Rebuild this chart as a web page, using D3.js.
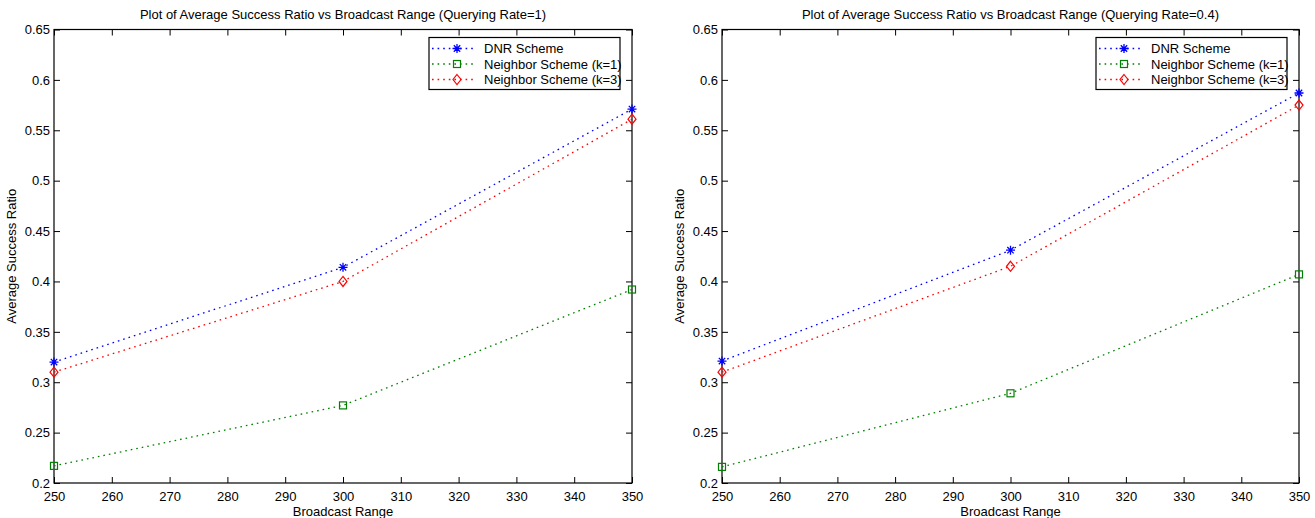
<!DOCTYPE html>
<html>
<head>
<meta charset="utf-8">
<script src="https://cdn.jsdelivr.net/npm/d3@7"></script>
<style>
  html, body { margin: 0; padding: 0; background: #fff; }
  svg { display: block; }
  text { font-family: "Liberation Sans", Arial, Helvetica, sans-serif; fill: #000; }
</style>
</head>
<body>
<svg id="chart" width="1315" height="518"></svg>
<script>
// ---------------- data ----------------
const ranges = [250, 300, 350];
const seriesNames = ["DNR Scheme", "Neighbor Scheme (k=1)", "Neighbor Scheme (k=3)"];

// Querying Rate = 1
const dnrRate1 = [0.320, 0.414, 0.571];
const nbK1Rate1 = [0.217, 0.277, 0.392];
const nbK3Rate1 = [0.310, 0.400, 0.561];

// Querying Rate = 0.4
const dnrRate04 = [0.321, 0.431, 0.587];
const nbK1Rate04 = [0.216, 0.289, 0.407];
const nbK3Rate04 = [0.310, 0.415, 0.575];

const xTicks = [250, 260, 270, 280, 290, 300, 310, 320, 330, 340, 350];
const yTicks = [0.2, 0.25, 0.3, 0.35, 0.4, 0.45, 0.5, 0.55, 0.6, 0.65];
const yTickLabels = ["0.2", "0.25", "0.3", "0.35", "0.4", "0.45", "0.5", "0.55", "0.6", "0.65"];

const titles = [
  "Plot of Average Success Ratio vs Broadcast Range (Querying Rate=1)",
  "Plot of Average Success Ratio vs Broadcast Range (Querying Rate=0.4)"
];
const xLabel = "Broadcast Range";
const yLabel = "Average Success Ratio";

// ---------------- styles ----------------
const colors = ["#0000ff", "#008000", "#ff0000"];
const markers = ["star", "square", "diamond"];

const svg = d3.select("#chart");

function drawMarker(g, type, color) {
  if (type === "star") {
    g.append("path")
      .attr("d", "M-4.5,0L4.5,0M0,-4.5L0,4.5M-3.2,-3.2L3.2,3.2M-3.2,3.2L3.2,-3.2")
      .attr("stroke", color).attr("stroke-width", 1.3).attr("fill", "none");
  } else if (type === "square") {
    g.append("rect").attr("x", -3.5).attr("y", -3.5).attr("width", 7).attr("height", 7)
      .attr("stroke", color).attr("stroke-width", 1.2).attr("fill", "none");
  } else {
    g.append("path").attr("d", "M0,-5L4,0L0,5L-4,0Z")
      .attr("stroke", color).attr("stroke-width", 1.2).attr("fill", "none");
  }
}

function panel(left, right, top, bottom, title, seriesData) {
  const x = d3.scaleLinear().domain([250, 350]).range([left, right]);
  const y = d3.scaleLinear().domain([0.2, 0.65]).range([bottom, top]);
  const g = svg.append("g");
  const fontSize = 13;

  // axes
  const fmtY = (d) => yTickLabels[yTicks.indexOf(d)];
  const ax = g.append("g").attr("transform", `translate(0,${bottom})`)
    .call(d3.axisBottom(x).tickValues(xTicks).tickSizeInner(-6).tickSizeOuter(0).tickPadding(9).tickFormat(d3.format("d")));
  const axT = g.append("g").attr("transform", `translate(0,${top})`)
    .call(d3.axisTop(x).tickValues(xTicks).tickSizeInner(-6).tickSizeOuter(0).tickFormat(""));
  const ay = g.append("g").attr("transform", `translate(${left},0)`)
    .call(d3.axisLeft(y).tickValues(yTicks).tickSizeInner(-6).tickSizeOuter(0).tickPadding(4).tickFormat(fmtY));
  const ayR = g.append("g").attr("transform", `translate(${right},0)`)
    .call(d3.axisRight(y).tickValues(yTicks).tickSizeInner(-6).tickSizeOuter(0).tickFormat(""));
  [ax, axT, ay, ayR].forEach(a => {
    a.select(".domain").remove();
    a.selectAll(".tick line").attr("stroke", "#000").attr("stroke-width", 1);
    a.selectAll("text").attr("font-size", fontSize).attr("font-family", "Liberation Sans, Arial, sans-serif").attr("fill", "#000");
  });

  // box
  g.append("rect").attr("x", left).attr("y", top).attr("width", right - left).attr("height", bottom - top)
    .attr("fill", "none").attr("stroke", "#000").attr("stroke-width", 1.2);

  // series
  const line = d3.line().x((d, i) => x(ranges[i])).y(d => y(d));
  seriesData.forEach((vals, s) => {
    g.append("path").datum(vals).attr("d", line)
      .attr("fill", "none").attr("stroke", colors[s]).attr("stroke-width", 1.3)
      .attr("stroke-dasharray", "1.6,4");
    vals.forEach((v, i) => {
      const mg = g.append("g").attr("transform", `translate(${x(ranges[i])},${y(v)})`);
      drawMarker(mg, markers[s], colors[s]);
    });
  });

  // title & labels
  g.append("text").attr("x", (left + right) / 2).attr("y", 19).attr("text-anchor", "middle")
    .attr("font-size", 13).text(title);
  g.append("text").attr("x", (left + right) / 2).attr("y", 516).attr("text-anchor", "middle")
    .attr("font-size", 13).text(xLabel);
  g.append("text").attr("transform", `translate(${left - 38},${(top + bottom) / 2}) rotate(-90)`)
    .attr("text-anchor", "middle").attr("font-size", 13).text(yLabel);

  // legend
  const lx = right - 203, ly = top + 8, lw = 191, lh = 52;
  const lg = g.append("g");
  lg.append("rect").attr("x", lx).attr("y", ly).attr("width", lw).attr("height", lh)
    .attr("fill", "#fff").attr("stroke", "#000").attr("stroke-width", 1.2);
  seriesNames.forEach((name, s) => {
    const ry = ly + 11 + s * 15.5;
    lg.append("line").attr("x1", lx + 3).attr("x2", lx + 45).attr("y1", ry).attr("y2", ry)
      .attr("stroke", colors[s]).attr("stroke-width", 1.3).attr("stroke-dasharray", "1.6,4");
    const mg = lg.append("g").attr("transform", `translate(${lx + 28},${ry})`);
    drawMarker(mg, markers[s], colors[s]);
    lg.append("text").attr("x", lx + 55).attr("y", ry).attr("dy", "0.35em")
      .attr("font-size", 13).text(name);
  });
}

panel(54, 632, 29.5, 483, titles[0], [dnrRate1, nbK1Rate1, nbK3Rate1]);
panel(722, 1299, 29.5, 483, titles[1], [dnrRate04, nbK1Rate04, nbK3Rate04]);
</script>
</body>
</html>
